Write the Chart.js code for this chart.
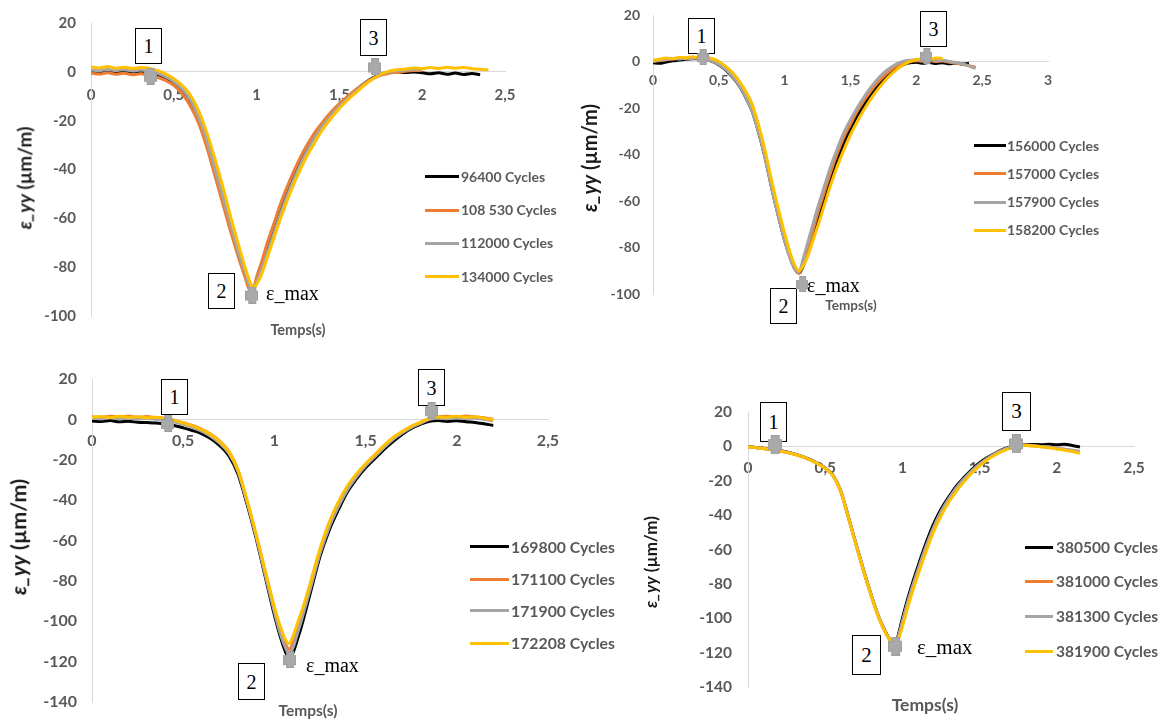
<!DOCTYPE html>
<html><head><meta charset="utf-8">
<script src="https://cdn.jsdelivr.net/npm/chart.js@4.4.0/dist/chart.umd.min.js"></script>
<style>
html,body{margin:0;padding:0;background:#fff;}
body{width:1165px;height:719px;position:relative;overflow:hidden;font-family:Lato,'Open Sans',sans-serif;}
.cv{position:absolute;}
.nbox{position:absolute;box-sizing:border-box;border:1px solid #000;font-family:'Liberation Serif',serif;color:#000;display:flex;align-items:center;justify-content:center;line-height:1;}
.emax{position:absolute;font-family:'Liberation Serif',serif;color:#000;white-space:nowrap;transform:translateY(-50%);line-height:1;}
.lgt{position:absolute;white-space:nowrap;font-weight:bold;color:#595959;line-height:1;transform:translateY(-50%);}
.lgl{position:absolute;height:3px;}
.xt{position:absolute;white-space:nowrap;font-weight:bold;color:#595959;line-height:1;transform:translate(-50%,-50%);}
.yt{position:absolute;white-space:nowrap;font-weight:bold;color:#1a1a1a;line-height:1;transform:translate(-50%,-50%) rotate(-90deg);}
</style></head><body>
<script>
// ---------- DATA ----------
const colors = ['#000000', '#ED7D31', '#A5A5A5', '#FFC000'];

// Panel 1
const t1 = [0,0.05,0.1,0.15,0.2,0.25,0.3,0.35,0.4,0.45,0.5,0.55,0.6,0.65,0.7,0.75,0.8,0.85,0.9,0.93,0.96,0.98,1.0,1.03,1.06,1.1,1.15,1.2,1.25,1.3,1.35,1.4,1.45,1.5,1.55,1.6,1.65,1.7,1.75,1.8,1.85,1.9,1.95,2.0,2.05,2.1,2.15,2.2,2.25,2.3,2.35,2.4];
const names1 = ['96400 Cycles','108 530 Cycles','112000 Cycles','134000 Cycles'];
const blk1 = [0.3,-0.1,0.5,0.0,0.4,-0.2,0.2,-0.3,-1.0,-2.5,-4.5,-7.5,-12,-19,-28.5,-40.5,-52.5,-64.5,-76.5,-82.5,-88,-89,-85.5,-80.5,-74.5,-66.5,-56.5,-47.5,-39.5,-32.5,-26.5,-21.5,-17.5,-13.5,-10.5,-7.5,-4.8,-2.6,-1.0,-0.2,0.0,-0.3,-0.1,-0.4,-0.8,-0.4,-1.0,-0.5,-1.1,-0.7,-1.2];
const org1 = [-0.5,-0.9,-0.4,-1.0,-0.6,-1.2,-0.8,-1.5,-2.2,-3.5,-5.5,-9,-14,-21,-31,-43,-55,-67,-78,-84,-89.5,-89,-84,-78,-71,-63,-53,-44.5,-37,-30.5,-25,-20.5,-16.5,-13,-10,-7.2,-4.8,-2.8,-1.4,-0.6,-0.2,0.2,0.5,0.6];
const gry1 = [0.8,0.4,1.0,0.5,0.9,0.3,0.7,0.2,-0.5,-2,-4,-7,-11.5,-18.5,-28,-40,-52,-64,-76,-82,-88,-89.5,-86,-81,-75,-67,-57,-48,-40,-33,-27,-22,-18,-14,-11,-8,-5.2,-2.9,-1.1,0,0.5,0.8,1.0,0.9];
const yel1 = [2.0,1.6,2.2,1.5,1.9,1.4,1.8,1.5,0.6,-0.8,-2.8,-5.5,-9.5,-16,-25,-36,-48,-61,-73,-80,-86,-88.5,-87,-83,-77,-69,-59,-50,-42,-35,-29,-23.5,-19,-15,-11.5,-8.5,-5.5,-3,-1,0.3,0.9,1.2,1.6,1.3,1.8,1.4,1.9,1.5,1.8,1.3,1.1,0.8];
const mk1X = [0.357, 0.971, 1.712];
const mk1Y = [-1.8, -91.4, 2.0];

// Panel 2
const t2 = [0,0.05,0.1,0.15,0.2,0.25,0.3,0.35,0.4,0.45,0.5,0.55,0.6,0.65,0.7,0.75,0.8,0.85,0.9,0.95,1.0,1.04,1.08,1.11,1.14,1.18,1.22,1.25,1.3,1.35,1.4,1.45,1.5,1.55,1.6,1.65,1.7,1.75,1.8,1.85,1.9,1.95,2.0,2.05,2.1,2.15,2.2,2.25,2.3,2.35,2.4,2.45,2.5];
const names2 = ['156000 Cycles','157000 Cycles','157900 Cycles','158200 Cycles'];
const blk2 = [-0.5,-0.8,-0.2,0.3,0.6,1.0,1.2,1.3,1.0,0,-1.5,-3.5,-6.5,-10,-15,-21,-30,-41,-54,-66,-77,-84,-89.5,-91,-88,-82,-74,-68,-59,-50,-42,-35,-29,-23.5,-19,-14.5,-11,-8,-5,-3,-1.5,-0.6,-0.3,-0.8,-0.4,-0.9,-0.5,-1.0,-0.6,-1.1,-0.8];
const org2 = [0,0.4,0.8,1.1,1.4,1.2,1.6,1.4,1.1,0.2,-1.2,-3.2,-6,-9.5,-14.5,-20.5,-29.5,-40.5,-53.5,-65.5,-76.5,-84,-89.5,-91,-86.5,-79.5,-71.5,-65.5,-56.5,-47.5,-39.5,-32.5,-27,-21.5,-17,-13,-9.5,-6.5,-4,-2,-0.8,0,0.3,0.1,0.4,0,0.2,-0.3,-0.6,-1.2,-1.8,-2.5];
const gry2 = [0.2,0.6,0.9,1.3,1.1,1.5,1.3,1.6,1.2,0.3,-1.3,-3.3,-6.2,-9.8,-14.8,-21,-30,-41,-54,-66,-77,-84.5,-89.5,-90.5,-85,-77,-69,-63,-54,-45,-37.5,-30.5,-25,-20,-15.5,-11.5,-8,-5,-2.8,-1,0,0.5,0.7,0.5,0.8,0.4,0.5,0,-0.4,-1,-1.9,-3];
const yel2 = [0.5,1.0,1.5,1.2,1.8,1.6,2.0,1.7,1.8,1.2,0,-2,-4.5,-8,-12.5,-18,-27,-38,-51,-63,-74,-82,-88,-90,-88,-83,-76,-71,-62,-53,-45,-38,-31.5,-26,-21,-16.5,-12.5,-9,-6,-3.5,-1.5,0,0.8,1.2,1.0,1.5,1.3];
const mk2X = [0.377, 1.133, 2.076];
const mk2Y = [1.9, -95.7, 2.4];

// Panel 3
const t3 = [0,0.05,0.1,0.15,0.2,0.25,0.3,0.35,0.4,0.45,0.5,0.55,0.6,0.65,0.7,0.75,0.8,0.85,0.9,0.95,1.0,1.03,1.06,1.08,1.1,1.13,1.15,1.2,1.25,1.3,1.35,1.4,1.45,1.5,1.55,1.6,1.65,1.7,1.75,1.8,1.85,1.9,1.95,2.0,2.05,2.1,2.15,2.2];
const names3 = ['169800 Cycles','171100 Cycles','171900 Cycles','172208 Cycles'];
const blk3 = [-0.8,-1.0,-0.6,-1.2,-0.9,-1.4,-1.6,-1.8,-2.2,-3,-4.2,-5.5,-7,-9.5,-13,-18,-27,-42,-59,-78,-97,-107,-115,-118,-116,-108,-102,-85,-68,-55,-45,-36,-29.5,-24,-19.5,-15,-11,-7.5,-4.5,-2.5,-1,-0.6,-1.0,-0.7,-1.2,-1.5,-2.2,-3];
const org3 = [1.3,0.9,1.6,1.2,1.7,1.0,1.4,0.9,0.5,-0.4,-1.7,-3.0,-4.8,-7.3,-10.8,-15.8,-25,-40.5,-57.5,-76,-94,-104,-111,-114,-111,-103,-97,-81,-65,-52,-42,-34,-27.5,-22.5,-18,-13.5,-9.5,-6.3,-3.7,-1.6,0.4,1.3,1.6,1.1,1.7,1.2,0.8,0];
const gry3 = [0.5,0.2,0.8,0.3,0.6,0.1,0.4,0,-0.4,-1.2,-2.5,-4,-5.8,-8.3,-11.8,-16.8,-25.8,-41,-58,-77,-95.5,-105.5,-113,-116,-113.5,-105,-99,-83,-66.5,-53.5,-43.5,-35,-28.5,-23,-18.5,-14,-10,-6.8,-4,-2,0,0.5,0.3,0.7,0.4,0.6,0,-0.8];
const yel3 = [1.0,1.4,0.9,1.5,1.1,1.3,0.8,1.0,0.4,-0.5,-1.8,-3.2,-5,-7.5,-11,-16,-25,-40,-57,-75,-93,-102,-109,-111,-108,-100,-95,-80,-64,-51,-41,-33,-27,-22,-17.5,-13,-9,-6,-3.5,-1.5,0.5,1.2,1.0,1.5,1.1,1.3,0.6,-0.2];
const mk3X = [0.415, 1.083, 1.859];
const mk3Y = [-2.0, -119, 4.3];

// Panel 4
const t4 = [0,0.05,0.1,0.15,0.2,0.25,0.3,0.35,0.4,0.45,0.5,0.55,0.6,0.65,0.7,0.75,0.8,0.85,0.9,0.93,0.95,0.97,1.0,1.03,1.06,1.1,1.15,1.2,1.25,1.3,1.35,1.4,1.45,1.5,1.55,1.6,1.65,1.7,1.75,1.8,1.85,1.9,1.95,2.0,2.05,2.1,2.15];
const names4 = ['380500 Cycles','381000 Cycles','381300 Cycles','381900 Cycles'];
const blk4 = [0,-0.6,-1.1,-1.9,-2.4,-3.3,-4.4,-5.8,-7.6,-9.8,-12.6,-16.8,-25.8,-41,-57,-72.5,-87,-100,-109.5,-114,-116,-111,-100,-90,-81,-70,-57,-45.5,-36.5,-29.5,-23,-18,-13.5,-9.5,-6.5,-4,-1.8,-0.2,0.6,0.9,1.1,1.0,1.3,1.0,1.2,0.5,-0.4];
const org4 = [-0.2,-0.7,-1.2,-1.9,-2.5,-3.4,-4.5,-5.9,-7.7,-9.9,-12.7,-16.9,-25.9,-41.2,-57.2,-72.8,-87.2,-100.2,-109.8,-114,-115.8,-112,-102.5,-92.5,-83.5,-72.5,-59.5,-48,-38.5,-31,-24.5,-19.2,-14.5,-10.5,-7.2,-4.5,-2.3,-0.6,0.4,0.6,0.3,-0.1,-0.5,-1.1,-1.7,-2.3,-3];
const gry4 = [-0.1,-0.7,-1.2,-1.9,-2.5,-3.4,-4.5,-5.9,-7.7,-9.9,-12.7,-16.9,-25.9,-41.2,-57.2,-72.8,-87.2,-100.2,-109.8,-114,-115.8,-112,-102,-92,-83,-72,-59,-47.5,-38,-30.5,-24,-18.8,-14.2,-10.2,-7,-4.3,-2.1,-0.5,0.4,0.7,0.4,0,-0.4,-1,-1.6,-2.2,-2.8];
const yel4 = [-0.3,-0.8,-1.3,-2,-2.6,-3.5,-4.6,-6,-7.8,-10,-12.8,-17,-26,-41.5,-57.5,-73,-87.5,-100.5,-110,-114,-115.5,-113,-105,-95,-86,-75,-62,-50,-40.5,-32.5,-26,-20.5,-15.5,-11.3,-7.8,-5,-2.7,-1,0.2,0.5,0.2,-0.3,-0.8,-1.5,-2.2,-3,-4];
const mk4X = [0.173, 0.953, 1.735];
const mk4Y = [1.0, -116.3, 1.4];

const yTitleLabel = ['ε_yy', ' (µm/m)'];
const xTitleLabel = 'Temps(s)';
const peakLabel = 'ε_max';
const boxLabels = ['1', '2', '3'];

// ---------- LAYOUT ----------
const panels = [
  { t:t1, series:[blk1,org1,gry1,yel1], names:names1, mx:mk1X, my:mk1Y,
    area:{l:91,r:505,t:23,b:316}, xMax:2.5, yMin:-100, tickFs:15, xPad:14, yPad:15, mk:[13,17],
    legend:{x:425,w:34,tx:461,ys:[176.7,210,243.3,276.7],fs:14},
    temps:{x:298,y:330,fs:14.5}, ytitle:{x:24,y:178,fs:19},
    boxes:[[135,28,27,36],[208,273,27,36],[360,19,27,37]], boxFs:20, emax:{x:266,y:293,fs:20} },
  { t:t2, series:[blk2,org2,gry2,yel2], names:names2, mx:mk2X, my:mk2Y,
    area:{l:653,r:1048,t:15,b:294}, xMax:3, yMin:-100, tickFs:14, xPad:11, yPad:13, mk:[12,16],
    legend:{x:974,w:32,tx:1007,ys:[145.7,173.7,202,230],fs:14},
    temps:{x:851,y:306,fs:13.5}, ytitle:{x:589,y:158,fs:20},
    boxes:[[688,18,27,36],[770,288,27,36],[920,11,27,36]], boxFs:20, emax:{x:807,y:285,fs:20} },
  { t:t3, series:[blk3,org3,gry3,yel3], names:names3, mx:mk3X, my:mk3Y,
    area:{l:92,r:548,t:379,b:702}, xMax:2.5, yMin:-140, tickFs:16, xPad:12, yPad:15, mk:[13,17],
    legend:{x:470,w:39,tx:511,ys:[546.7,579.3,610.7,643.3],fs:15.8},
    temps:{x:308,y:711,fs:15.5}, ytitle:{x:19,y:537,fs:21.5},
    boxes:[[161,379,27,36],[238,663,27,37],[418,369,27,37]], boxFs:20, emax:{x:306,y:665,fs:20} },
  { t:t4, series:[blk4,org4,gry4,yel4], names:names4, mx:mk4X, my:mk4Y,
    area:{l:748,r:1134,t:412,b:687}, xMax:2.5, yMin:-140, tickFs:15.5, xPad:12, yPad:16, mk:[14,19],
    legend:{x:1025,w:28,tx:1056,ys:[547.7,581.7,616.7,651.7],fs:15.5},
    temps:{x:925,y:705,fs:17.5}, ytitle:{x:649.5,y:562,fs:17},
    boxes:[[760,402,27,40],[852,635,29,40],[1002,392,29,39]], boxFs:21, emax:{x:917,y:647,fs:21} }
];

function pts(xs, ys) { const n = Math.min(xs.length, ys.length); const a = []; for (let i = 0; i < n; i++) a.push({x: xs[i], y: ys[i]}); return a; }
function markerImg(w, h) {
  const c = document.createElement('canvas'); c.width = w; c.height = h;
  const g = c.getContext('2d');
  const aw = Math.round(w * 0.62), ah = Math.round(h * 0.58);
  g.fillStyle = '#9f9f9f';
  g.fillRect(Math.round((w - aw) / 2), 0, aw, h);
  g.fillRect(0, Math.round((h - ah) / 2), w, ah);
  g.fillStyle = '#a9a9a9';
  g.fillRect(Math.round((w - aw) / 2) + 1, 1, aw - 2, h - 2);
  g.fillRect(1, Math.round((h - ah) / 2) + 1, w - 2, ah - 2);
  return c;
}
function el(cls, css, text) { const d = document.createElement('div'); d.className = cls; d.style.cssText = css; if (text != null) d.textContent = text; document.body.appendChild(d); return d; }

const YW = 62, PT = 36, PR = 40, PB = 36;
panels.forEach(p => {
  p.boxes.forEach((b, i) => el('nbox', `left:${b[0]}px;top:${b[1]}px;width:${b[2]}px;height:${b[3]}px;font-size:${p.boxFs}px;`, boxLabels[i]));
  const W = p.area.r - p.area.l, H = p.area.b - p.area.t;
  const cw = YW + W + PR, ch = PT + H + PB;
  const cv = document.createElement('canvas');
  cv.className = 'cv'; cv.width = cw; cv.height = ch;
  cv.style.cssText = `left:${p.area.l - YW}px;top:${p.area.t - PT}px;width:${cw}px;height:${ch}px;`;
  document.body.appendChild(cv);
  const fnt = {family: 'Lato', size: p.tickFs, weight: 'bold'};
  const datasets = p.series.map((ys, i) => ({
    label: p.names[i], data: pts(p.t, ys), borderColor: colors[i], backgroundColor: colors[i],
    borderWidth: 3, showLine: true, pointRadius: 0, cubicInterpolationMode: 'monotone', order: 4 - i
  }));
  datasets.push({ label: 'marks', data: pts(p.mx, p.my), pointStyle: markerImg(p.mk[0], p.mk[1]), pointRadius: 9, showLine: false, order: 0 });
  const pad = { left: 0, top: PT, right: PR, bottom: PB };
  const chart = new Chart(cv, {
    type: 'scatter',
    data: { datasets },
    options: {
      responsive: false, animation: false, devicePixelRatio: 1,
      layout: { padding: Object.assign({}, pad), autoPadding: false },
      plugins: { legend: { display: false }, tooltip: { enabled: false } },
      scales: {
        x: { type: 'linear', min: 0, max: p.xMax, position: { y: 0 },
             grid: { display: false, drawTicks: false },
             border: { display: true, color: '#d9d9d9', width: 1 },
             ticks: { stepSize: 0.5, padding: p.xPad, color: '#595959', font: fnt, maxRotation: 0, autoSkip: false,
                      callback: v => String(v).replace('.', ',') },
             afterFit: s => { s.height = 0; } },
        y: { type: 'linear', min: p.yMin, max: 20, position: 'left',
             grid: { display: false, drawTicks: false },
             border: { display: true, color: '#d9d9d9', width: 1 },
             ticks: { stepSize: 20, padding: p.yPad, color: '#595959', font: fnt },
             afterFit: s => { s.width = YW; } }
      }
    }
  });
  // make the plot area land exactly where intended
  for (let k = 0; k < 3; k++) {
    const a = chart.chartArea;
    const dT = PT - a.top, dB = (PT + H) - a.bottom, dL = YW - a.left, dR = (YW + W) - a.right;
    if (Math.abs(dT) + Math.abs(dB) + Math.abs(dL) + Math.abs(dR) < 0.5) break;
    pad.top += dT; pad.bottom -= dB; pad.left += dL; pad.right -= dR;
    chart.options.layout.padding = Object.assign({}, pad);
    chart.update('none');
  }
  p.names.forEach((n, i) => {
    const y = p.legend.ys[i];
    el('lgl', `left:${p.legend.x}px;top:${(y - 1.5).toFixed(1)}px;width:${p.legend.w}px;background:${colors[i]};`);
    el('lgt', `left:${p.legend.tx}px;top:${y}px;font-size:${p.legend.fs}px;`, n);
  });
  el('xt', `left:${p.temps.x}px;top:${p.temps.y}px;font-size:${p.temps.fs}px;`, xTitleLabel);
  const yt = el('yt', `left:${p.ytitle.x}px;top:${p.ytitle.y}px;font-size:${p.ytitle.fs}px;`);
  const it = document.createElement('i'); it.textContent = yTitleLabel[0]; yt.appendChild(it);
  yt.appendChild(document.createTextNode(yTitleLabel[1]));
  el('emax', `left:${p.emax.x}px;top:${p.emax.y}px;font-size:${p.emax.fs}px;`, peakLabel);
});
</script>
</body></html>
